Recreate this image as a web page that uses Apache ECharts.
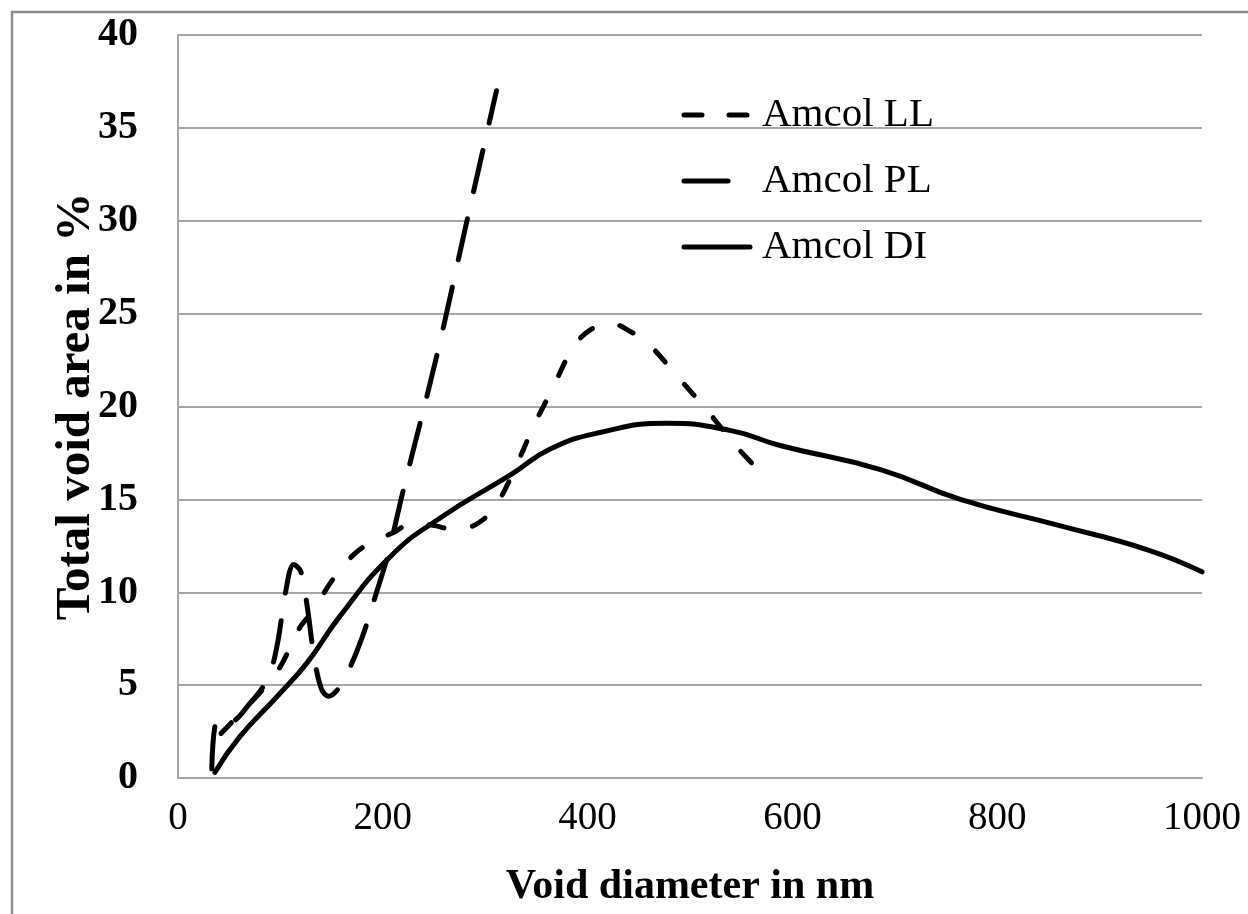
<!DOCTYPE html>
<html><head><meta charset="utf-8">
<script src="https://cdn.jsdelivr.net/npm/echarts@6/dist/echarts.min.js"></script>
<style>html,body{margin:0;padding:0;background:#fff}#c{width:1248px;height:914px}</style>
</head><body><div id="c"></div>
<script>
const seriesNames = ['Amcol LL', 'Amcol PL', 'Amcol DI'];
const xTicks = [0, 200, 400, 600, 800, 1000];
const yTicks = [0, 5, 10, 15, 20, 25, 30, 35, 40];
const amcolLL = [[42,2.4],[63,3.6],[85,4.9],[100,6.0],[119,8.1],[132,9.0],[150,10.6],[171,12.0],[189,12.7],[210,13.2],[228,13.7],[249,13.6],[268,13.4],[285,13.5],[300,14.0],[310,14.6],[327,16.4],[347,18.9],[366,21.0],[386,23.2],[402,24.1],[422,24.5],[443,24.0],[459,23.4],[488,21.6],[518,19.7],[546,17.8],[565,16.7]];
const amcolPL = [[33,0.5],[39,3.2],[50,3.0],[70,4.0],[88,5.4],[97,7.2],[105,10.0],[113,11.5],[120,11.1],[126,9.3],[133,6.5],[140,4.8],[147,4.4],[155,4.7],[165,5.6],[180,7.6],[195,10.2],[205,12.0],[220,15.5],[253,22.8],[283,30.2],[311,37.0]];
const amcolDI = [[36,0.3],[60,2.2],[97,4.4],[126,6.2],[158,8.7],[207,11.9],[256,14.0],[327,16.4],[363,17.7],[412,18.6],[477,19.1],[540,18.7],[588,17.9],[686,16.6],[764,15.0],[860,13.6],[946,12.3],[1000,11.1]];

const chart = echarts.init(document.getElementById('c'));
const font = 'Liberation Serif, Times New Roman, serif';
const lineStyles = [
  {color:'#000', width:5, type:[15,29], cap:'round'},
  {color:'#000', width:5, type:[42,28], cap:'round'},
  {color:'#000', width:5, type:'solid', cap:'round'}
];
const legendRows = [
  {y:115, x2:748, dash:[18,27]},
  {y:181, x2:728, dash:null},
  {y:247, x2:750, dash:null}
];
const legendGraphics = [];
legendRows.forEach((r, i) => {
  legendGraphics.push({type:'line', silent:true, shape:{x1:684, y1:r.y, x2:r.x2, y2:r.y},
    style:{stroke:'#000', lineWidth:5, lineCap:'round', lineDash:r.dash}});
  legendGraphics.push({type:'text', silent:true, x:762, y:r.y,
    style:{text:seriesNames[i], fill:'#000', font:'41px ' + font, textVerticalAlign:'middle', verticalAlign:'middle'}});
});
chart.setOption({
  animation: false,
  backgroundColor: '#fff',
  graphic: [{type:'rect', shape:{x:12,y:12,width:1260,height:940}, style:{fill:'none', stroke:'#8c8c8c', lineWidth:2.5}, silent:true}].concat(legendGraphics),
  grid: {left:178, right:46, top:35, bottom:136},
  legend: {show:false, data: seriesNames},
  xAxis: {
    type:'value', min:0, max:1000, interval:200,
    name:'Void diameter in nm', nameLocation:'middle', nameGap:88,
    nameTextStyle:{fontFamily:font, fontSize:42, fontWeight:'bold', color:'#000'},
    axisLine:{show:true, lineStyle:{color:'#a6a6a6', width:2}},
    axisTick:{show:false},
    axisLabel:{fontFamily:font, fontSize:39, color:'#000', margin:21, formatter: v => xTicks.includes(v) ? String(v) : ''},
    splitLine:{show:false}
  },
  yAxis: {
    type:'value', min:0, max:40, interval:5,
    name:'Total void area in %', nameLocation:'middle', nameGap:77, nameRotate:90, nameMoveOverlap:false,
    nameTextStyle:{fontFamily:font, fontSize:49, fontWeight:'bold', color:'#000'},
    axisLine:{show:true, lineStyle:{color:'#a6a6a6', width:2}},
    axisTick:{show:false},
    axisLabel:{fontFamily:font, fontSize:40, fontWeight:'bold', color:'#000', margin:40, formatter: v => yTicks.includes(v) ? String(v) : ''},
    splitLine:{show:true, lineStyle:{color:'#a6a6a6', width:2}}
  },
  series: [
    {name:seriesNames[0], type:'line', data:amcolLL, showSymbol:false, symbol:'none', smooth:0.35, lineStyle:lineStyles[0], itemStyle:{color:'#000'}},
    {name:seriesNames[1], type:'line', data:amcolPL, showSymbol:false, symbol:'none', smooth:0.35, lineStyle:lineStyles[1], itemStyle:{color:'#000'}},
    {name:seriesNames[2], type:'line', data:amcolDI, showSymbol:false, symbol:'none', smooth:0.5, lineStyle:lineStyles[2], itemStyle:{color:'#000'}}
  ]
});
</script></body></html>
